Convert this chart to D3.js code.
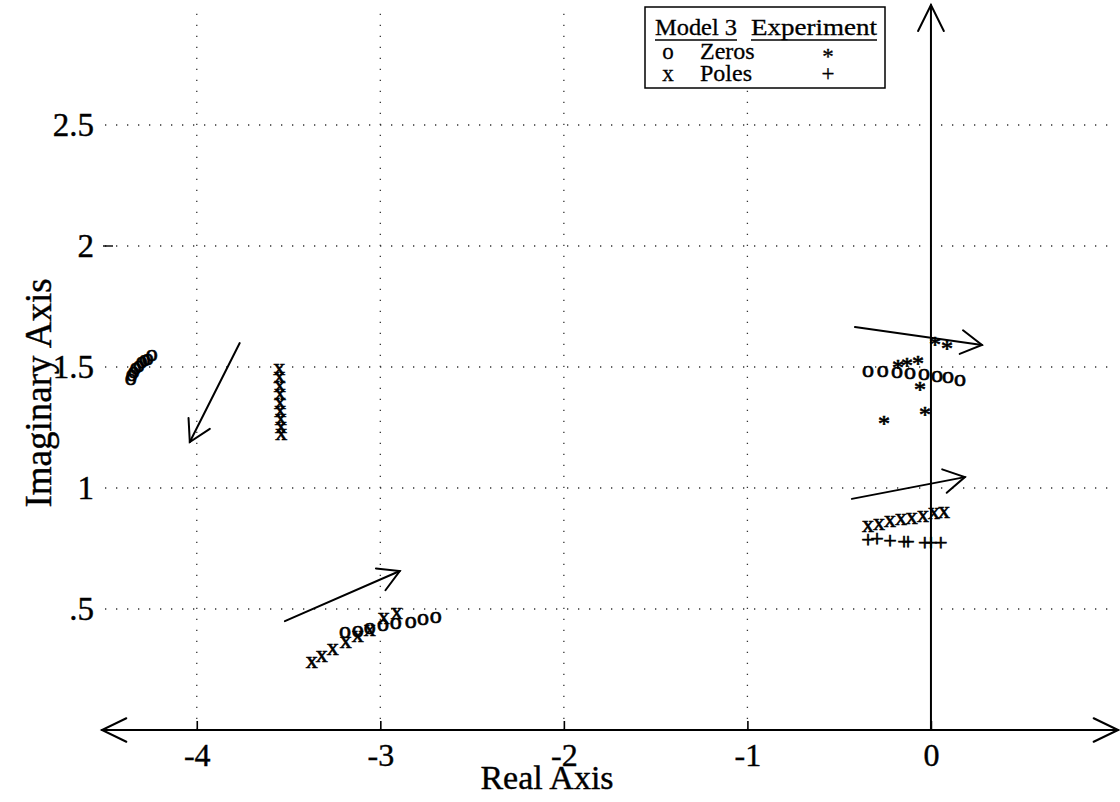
<!DOCTYPE html>
<html>
<head>
<meta charset="utf-8">
<script src="https://cdn.jsdelivr.net/npm/d3@7"></script>
<style>
  html, body { margin: 0; padding: 0; background: #fff; }
  svg { display: block; }
  text { font-family: "Liberation Serif", "Times New Roman", serif; fill: #000; }
</style>
</head>
<body>
<svg id="chart" width="1120" height="802"></svg>
<script>
// ---- data: [real, imaginary] ----
// Model 3 zeros (o)
const modelZeros = [
  [-4.360, 1.450], [-4.354, 1.467], [-4.343, 1.479], [-4.332, 1.492], [-4.316, 1.504],
  [-4.300, 1.517], [-4.283, 1.525], [-4.267, 1.533], [-4.245, 1.548],
  [-3.193, 0.401], [-3.123, 0.409], [-3.057, 0.421], [-2.986, 0.430], [-2.916, 0.442],
  [-2.834, 0.446], [-2.768, 0.455], [-2.698, 0.463],
  [-0.343, 1.483], [-0.262, 1.483], [-0.185, 1.479], [-0.114, 1.475], [-0.038, 1.471],
  [0.033, 1.459], [0.093, 1.455], [0.158, 1.446]
];
// Model 3 poles (x)
const modelPoles = [
  [-3.550, 1.490], [-3.549, 1.455], [-3.548, 1.420], [-3.547, 1.385], [-3.546, 1.350],
  [-3.545, 1.315], [-3.543, 1.282], [-3.541, 1.250], [-3.540, 1.220],
  [-3.373, 0.277], [-3.319, 0.302], [-3.259, 0.331], [-3.188, 0.360], [-3.123, 0.388],
  [-3.057, 0.413], [-2.981, 0.459], [-2.910, 0.483],
  [-0.343, 0.843], [-0.283, 0.851], [-0.223, 0.860], [-0.163, 0.868], [-0.104, 0.876],
  [-0.044, 0.884], [0.016, 0.893], [0.071, 0.897]
];
// Experiment zeros (*)
const expZeros = [
  [0.022, 1.612], [0.087, 1.595], [-0.180, 1.517], [-0.131, 1.525], [-0.071, 1.533],
  [-0.060, 1.426], [-0.033, 1.326], [-0.256, 1.289]
];
// Experiment poles (+)
const expPoles = [
  [-0.343, 0.785], [-0.294, 0.789], [-0.223, 0.777], [-0.147, 0.773], [-0.125, 0.773],
  [-0.033, 0.769], [0.000, 0.769], [0.054, 0.769]
];
// Trend arrows: [realStart, imagStart, realEnd, imagEnd]
const trendArrows = [
  [-3.766, 1.599, -4.038, 1.190],
  [-3.520, 0.450, -2.894, 0.657],
  [-0.414, 1.665, 0.278, 1.591],
  [-0.431, 0.955, 0.185, 1.045]
];
// Axis ticks
const xTicks = [-4, -3, -2, -1, 0];
const xTickLabels = ["-4", "-3", "-2", "-1", "0"];
const yTicks = [0.5, 1, 1.5, 2, 2.5];
const yTickLabels = [".5", "1", "1.5", "2", "2.5"];
const yDashTicks = [2];

// ---- scales ----
const svg = d3.select("#chart");
const x = d3.scaleLinear().domain([-4.5, 1]).range([105, 1114.5]);
const y = d3.scaleLinear().domain([0, 3]).range([730, 4]);

svg.append("rect").attr("width", 1120).attr("height", 802).attr("fill", "#fff");

// ---- dotted grid ----
const grid = svg.append("g")
  .attr("stroke", "#333").attr("stroke-width", 1.3)
  .attr("stroke-dasharray", "1.3 9.7").attr("fill", "none");
grid.selectAll("line.gv").data(xTicks.filter(d => d !== 0)).join("line")
  .attr("class", "gv")
  .attr("x1", d => x(d)).attr("x2", d => x(d))
  .attr("y1", y(0)).attr("y2", y(3));
grid.selectAll("line.gh").data(yTicks).join("line")
  .attr("class", "gh")
  .attr("x1", x(-4.5)).attr("x2", x(1))
  .attr("y1", d => y(d)).attr("y2", d => y(d));

// ---- axes ----
const labelStyle = size => sel => sel
  .style("font-family", "'Liberation Serif', serif")
  .style("font-size", size + "px")
  .attr("stroke", "#000").attr("stroke-width", 0.4);

const xAxis = svg.append("g")
  .attr("transform", `translate(0,${y(0)})`)
  .call(d3.axisBottom(x).tickValues(xTicks)
    .tickFormat((d, i) => xTickLabels[i]).tickSize(-9).tickPadding(13));
xAxis.select(".domain").remove();
xAxis.selectAll(".tick line").attr("stroke", "#000").attr("stroke-width", 1.6);
xAxis.selectAll(".tick text").call(labelStyle(32));

const yAxis = svg.append("g")
  .attr("transform", `translate(${x(-4.5)},0)`)
  .call(d3.axisLeft(y).tickValues(yTicks)
    .tickFormat((d, i) => yTickLabels[i]).tickSize(0).tickPadding(11));
yAxis.select(".domain").remove();
yAxis.selectAll(".tick text").call(labelStyle(33));

svg.append("g").selectAll("line").data(yDashTicks).join("line")
  .attr("x1", x(-4.5) - 2).attr("x2", x(-4.5) + 8)
  .attr("y1", d => y(d)).attr("y2", d => y(d))
  .attr("stroke", "#000").attr("stroke-width", 1.4);

// open V arrowhead at (tx,ty) pointing away from (fx,fy)
function vHead(tx, ty, fx, fy, len, halfAngle) {
  const a = Math.atan2(fy - ty, fx - tx);
  const p1 = [tx + len * Math.cos(a + halfAngle), ty + len * Math.sin(a + halfAngle)];
  const p2 = [tx + len * Math.cos(a - halfAngle), ty + len * Math.sin(a - halfAngle)];
  return `M${p1[0]},${p1[1]}L${tx},${ty}L${p2[0]},${p2[1]}`;
}

const axes = svg.append("g").attr("stroke", "#000").attr("fill", "none")
  .attr("stroke-width", 2).attr("stroke-linecap", "round");
const xL = x(-4.5) - 3, xR = x(1) + 3.5, y0 = y(0), x0 = x(0), yT = y(3) + 1;
axes.append("line").attr("x1", xL).attr("x2", xR).attr("y1", y0).attr("y2", y0);
axes.append("line").attr("x1", x0).attr("x2", x0).attr("y1", y0).attr("y2", yT);
axes.append("path").attr("d", vHead(xL, y0, xL + 100, y0, 27, 0.45));
axes.append("path").attr("d", vHead(xR, y0, xR - 100, y0, 27, 0.45));
axes.append("path").attr("d", vHead(x0, yT, x0, yT + 100, 29, 0.46));

// axis titles
svg.append("text").attr("x", 547).attr("y", 789).attr("text-anchor", "middle")
  .style("font-size", "34px").attr("stroke", "#000").attr("stroke-width", 0.4)
  .text("Real Axis");
svg.append("text").attr("transform", "translate(51,393) rotate(-90)")
  .attr("text-anchor", "middle").style("font-size", "37px")
  .attr("stroke", "#000").attr("stroke-width", 0.4)
  .text("Imaginary Axis");

// ---- trend arrows ----
const arrows = svg.append("g").attr("stroke", "#000").attr("fill", "none")
  .attr("stroke-width", 2).attr("stroke-linecap", "round");
arrows.selectAll("line").data(trendArrows).join("line")
  .attr("x1", d => x(d[0])).attr("y1", d => y(d[1]))
  .attr("x2", d => x(d[2])).attr("y2", d => y(d[3]));
arrows.selectAll("path").data(trendArrows).join("path")
  .attr("d", d => vHead(x(d[2]), y(d[3]), x(d[0]), y(d[1]), 24, 0.52));

// ---- glyph markers ----
const markerSize = 24;
function drawMarkers(data, glyph, lift) {
  svg.append("g").selectAll("text").data(data).join("text")
    .attr("x", d => x(d[0]))
    .attr("y", d => y(d[1]) + lift * markerSize)
    .attr("text-anchor", "middle")
    .style("font-size", markerSize + "px")
    .attr("stroke", "#000").attr("stroke-width", 0.7)
    .text(glyph);
}
drawMarkers(modelZeros, "o", 0.23);
drawMarkers(modelPoles, "x", 0.23);
drawMarkers(expZeros, "*", 0.52);
drawMarkers(expPoles, "+", 0.27);

// ---- legend ----
const legend = svg.append("g");
legend.append("rect").attr("x", 645).attr("y", 7).attr("width", 240).attr("height", 81)
  .attr("fill", "#fff").attr("stroke", "#000").attr("stroke-width", 1.5);
const legendHeads = [["Model 3", 655, 82], ["Experiment", 751, 126]];
legendHeads.forEach(([label, lx, len]) => {
  legend.append("text").attr("x", lx).attr("y", 35)
    .attr("textLength", len).attr("lengthAdjust", "spacingAndGlyphs")
    .style("font-size", "24px").attr("stroke", "#000").attr("stroke-width", 0.3).text(label);
  legend.append("line").attr("x1", lx).attr("x2", lx + len).attr("y1", 40).attr("y2", 40)
    .attr("stroke", "#000").attr("stroke-width", 1.3);
});
const legendRows = [["o", "Zeros", "*", 59], ["x", "Poles", "+", 81]];
legendRows.forEach(([m, label, e, ly]) => {
  legend.append("text").attr("x", 668).attr("y", ly).attr("text-anchor", "middle")
    .style("font-size", "23px").attr("stroke", "#000").attr("stroke-width", 0.3).text(m);
  legend.append("text").attr("x", 700).attr("y", ly)
    .style("font-size", "24px").attr("stroke", "#000").attr("stroke-width", 0.3).text(label);
  legend.append("text").attr("x", 828).attr("y", e === "*" ? ly + 5 : ly)
    .attr("text-anchor", "middle").style("font-size", "23px")
    .attr("stroke", "#000").attr("stroke-width", 0.3).text(e);
});
</script>
</body>
</html>
